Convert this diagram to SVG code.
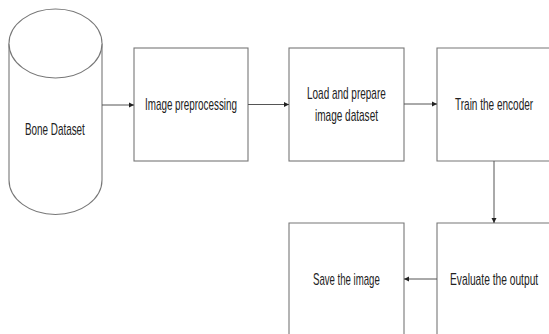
<svg xmlns="http://www.w3.org/2000/svg" width="549" height="334" viewBox="0 0 549 334">
  <defs>
    <marker id="arrow" markerWidth="6" markerHeight="6" refX="5" refY="3" orient="auto" markerUnits="userSpaceOnUse">
      <path d="M0,0.5 L5,3 L0,5.5 Z" fill="#222"/>
    </marker>
    <style>
      .shape { fill: #ffffff; stroke: #777; stroke-width: 1.1; }
      .edge { fill: none; stroke: #555; stroke-width: 1; marker-end: url(#arrow); }
      .label { font-family: "Liberation Sans", Arial, sans-serif; font-size: 16px; fill: #222; }
    </style>
  </defs>
  <rect width="549" height="334" fill="#ffffff"/>

  <!-- labels are set in a condensed face: Liberation Sans squeezed to 63% width -->

  <!-- dataset store -->
  <g id="bone-dataset">
    <path class="shape" d="M9,43.5 A46.5,34.5 0 0 1 102,43.5 L102,180 A46.5,34.5 0 0 1 9,180 Z"/>
    <path class="shape" fill="none" d="M9,43.5 A46.5,34.5 0 0 0 102,43.5"/>
    <text class="label" transform="translate(25,135) scale(0.63,1)" textLength="95" lengthAdjust="spacingAndGlyphs">Bone Dataset</text>
  </g>

  <g id="image-preprocessing">
    <rect class="shape" x="134" y="48" width="114" height="113"/>
    <text class="label" transform="translate(145,110) scale(0.63,1)" textLength="146" lengthAdjust="spacingAndGlyphs">Image preprocessing</text>
  </g>

  <g id="load-prepare">
    <rect class="shape" x="289" y="48" width="115" height="113"/>
    <text class="label" transform="translate(307,99) scale(0.63,1)" textLength="125" lengthAdjust="spacingAndGlyphs">Load and prepare</text>
    <text class="label" transform="translate(315,121) scale(0.63,1)" textLength="100" lengthAdjust="spacingAndGlyphs">image dataset</text>
  </g>

  <!-- these two boxes run on past the right edge -->
  <g id="train-encoder">
    <path class="shape" d="M549,48 L437,48 L437,161 L549,161"/>
    <text class="label" transform="translate(455,110) scale(0.63,1)" textLength="124" lengthAdjust="spacingAndGlyphs">Train the encoder</text>
  </g>

  <g id="evaluate-output">
    <path class="shape" d="M549,223 L437,223 L437,334"/>
    <text class="label" transform="translate(450,285) scale(0.63,1)" textLength="140" lengthAdjust="spacingAndGlyphs">Evaluate the output</text>
  </g>

  <g id="save-image">
    <path class="shape" d="M289,334 L289,223 L404,223 L404,334"/>
    <text class="label" transform="translate(313,285) scale(0.63,1)" textLength="106" lengthAdjust="spacingAndGlyphs">Save the image</text>
  </g>

  <!-- flow between steps -->
  <g id="connectors">
    <line class="edge" x1="102" y1="105" x2="134" y2="105"/>
    <line class="edge" x1="248" y1="104.5" x2="289" y2="104.5"/>
    <line class="edge" x1="404" y1="104" x2="437" y2="104"/>
    <line class="edge" x1="494" y1="161" x2="494" y2="223"/>
    <line class="edge" x1="437" y1="279" x2="404" y2="279"/>
  </g>
</svg>
